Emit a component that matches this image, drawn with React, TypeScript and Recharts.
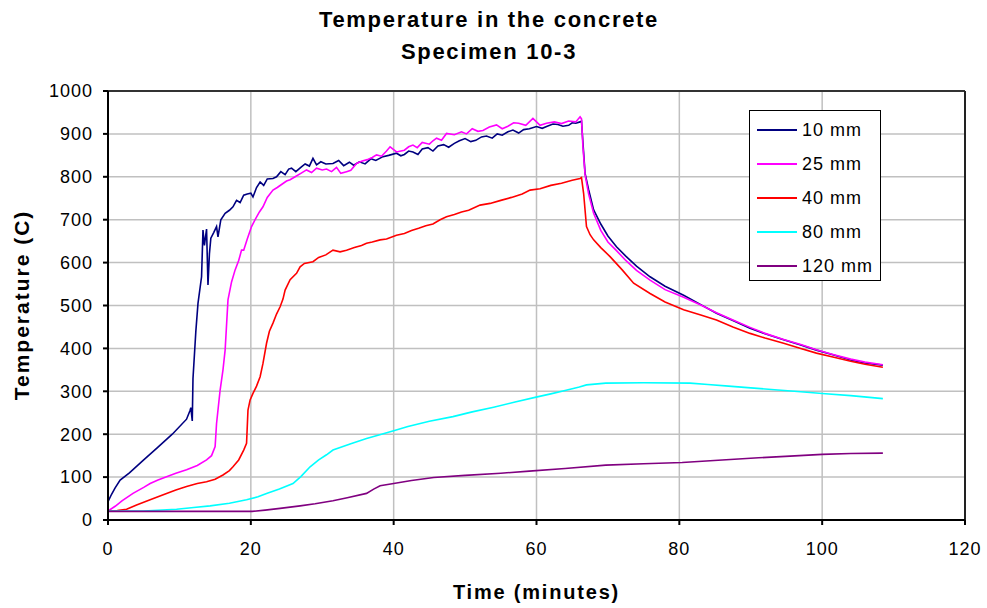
import React from 'react';
import { LineChart, Line, XAxis, YAxis, CartesianGrid, ReferenceLine } from 'recharts';

// [time (min), temperature (C)]
const s10mm: [number, number][] = [
  [0, 43], [0.5, 60], [1, 75], [1.7, 93], [3, 110], [5, 140], [7, 170], [9, 200], [11, 235], [11.5, 256],
  [11.6, 262], [11.8, 231], [11.9, 330], [12.3, 440], [12.6, 505], [13.1, 567], [13.3, 676], [13.5, 640],
  [13.8, 678], [14.0, 548], [14.2, 620], [14.4, 657], [14.8, 670], [15.2, 684], [15.4, 660], [15.8, 700],
  [16.4, 715], [17, 722], [17.5, 730], [18, 745], [18.5, 740], [19, 757], [19.5, 760], [20, 762], [20.3, 753],
  [20.8, 775], [21.3, 788], [21.8, 780], [22.3, 795], [23.1, 796], [23.6, 800], [24.2, 812], [24.8, 805],
  [25.3, 818], [25.7, 820], [26.3, 812], [27, 822], [27.6, 830], [28.2, 825], [28.7, 843], [29.2, 828],
  [29.8, 835], [30.5, 830], [31.5, 831], [32.3, 838], [33, 826], [33.8, 834], [34.4, 827], [35.2, 835],
  [36, 830], [36.8, 842], [37.5, 838], [38.5, 847], [39.3, 850], [40.4, 855], [41, 849], [41.5, 852], [42.1, 860],
  [42.7, 858], [43.4, 852], [44, 865], [44.8, 868], [45.5, 860], [46.2, 872], [47, 875], [47.7, 869], [48.5, 878],
  [49.2, 884], [50, 889], [50.8, 882], [51.5, 885], [52.3, 893], [53, 895], [53.8, 890], [54.5, 900], [55.2, 897],
  [56, 905], [56.7, 909], [57.5, 902], [58.2, 910], [59, 912], [60, 917], [60.8, 913], [61.5, 918], [62.3, 923],
  [63, 922], [63.7, 918], [64.5, 920], [65, 926], [65.5, 925], [66.1, 928], [66.3, 930],
  [66.5, 880], [66.8, 808], [67.3, 770], [68, 723], [69, 690], [70, 662], [71.2, 637], [72.5, 615], [74, 592],
  [75.9, 567], [78, 545], [80.6, 524], [83, 502], [85.2, 482], [87.5, 465], [89.9, 447], [92, 434], [94.6, 420],
  [97, 408], [99.2, 396], [101.5, 385], [104, 373], [106, 366], [108.5, 361],
];

const s25mm: [number, number][] = [
  [0, 21], [1, 32], [2, 45], [3.5, 62], [5, 76], [5.9, 85], [7, 93], [8.2, 101], [9.5, 109], [11, 117],
  [12.5, 127], [13.8, 140], [14.5, 150], [15, 171], [15.2, 225], [15.7, 303], [16.1, 350], [16.4, 396],
  [16.8, 513], [17.3, 555], [17.8, 583], [18.3, 605], [18.7, 629], [19, 629], [19.5, 655], [20.1, 684],
  [20.6, 700], [21.2, 718], [21.7, 730], [22.3, 752], [23.1, 769], [23.7, 775], [24.3, 782], [25, 790],
  [25.5, 793], [26.2, 800], [27, 808], [27.8, 816], [28.5, 810], [29.2, 820], [30, 816], [30.6, 818],
  [31.3, 812], [32, 822], [32.6, 808], [33.4, 812], [34, 815], [34.8, 831], [35.5, 836], [36.3, 840],
  [37, 845], [37.6, 851], [38.3, 848], [39, 860], [39.5, 870], [40.4, 858], [41.5, 862], [42.1, 870], [42.7, 874],
  [43.3, 868], [44, 880], [45, 876], [45.5, 884], [46, 890], [46.7, 885], [47.4, 901], [48.5, 898], [49.5, 905],
  [50.2, 900], [51, 912], [51.8, 906], [52.5, 908], [53.4, 916], [54.4, 921], [55.2, 912], [56, 918], [56.8, 926],
  [57.5, 925], [58.5, 920], [59.5, 936], [60.5, 920], [61.4, 925], [62.5, 928], [63.5, 924], [64.5, 930],
  [65.5, 928], [66.1, 940], [66.3, 935], [66.5, 870], [66.8, 805], [67.3, 760], [68, 715], [69, 675], [70, 648],
  [71.2, 628], [72.5, 605], [74, 582], [75.9, 559], [78, 537], [80.6, 519], [83, 501], [85.2, 483], [87.5, 466],
  [89.9, 449], [92, 435], [94.6, 421], [97, 409], [99.2, 397], [101.5, 386], [104, 375], [106, 368], [108.5, 362],
];

const s40mm: [number, number][] = [
  [0, 21], [1.3, 22], [2.6, 25], [4, 35], [5.9, 47], [7, 54], [8.2, 62], [9.5, 70], [11, 78], [12.5, 85],
  [13.8, 89], [15, 95], [16.1, 105], [17, 115], [17.5, 124], [18.3, 140], [19, 163], [19.4, 179], [19.6, 256],
  [19.9, 280], [20.3, 295], [20.8, 312], [21.3, 334], [21.7, 365], [22.2, 412], [22.6, 440], [23.1, 459],
  [23.6, 480], [24.1, 497], [24.5, 515], [24.8, 536], [25.5, 560], [26.4, 575], [26.9, 590], [27.5, 598],
  [28.7, 602], [29.5, 612], [30.5, 618], [31.5, 629], [32.5, 625], [33.4, 629], [34.5, 635], [35.5, 640],
  [36.2, 645], [37, 648], [38.1, 653], [39, 655], [40.4, 664], [41.5, 668], [42.5, 675], [43.5, 680],
  [44.5, 686], [45.5, 690], [46.5, 700], [47.4, 707], [48.5, 712], [49.5, 718], [50.5, 722], [52.1, 734],
  [53.5, 738], [55, 745], [56.5, 752], [58, 760], [59.1, 769], [60.5, 772], [62, 780], [63.5, 785], [65, 792],
  [66.1, 796], [66.3, 798], [66.6, 761], [67, 684], [67.5, 665], [68, 653], [69, 635], [70.3, 614], [72, 583],
  [73.6, 552], [75.9, 528], [78, 508], [80.6, 490], [83, 478], [85.2, 466], [87.5, 450], [89.9, 435], [92, 424],
  [94.6, 412], [97, 400], [99.2, 389], [101.5, 380], [104, 370], [106, 363], [108.5, 356],
];

const s80mm: [number, number][] = [
  [0, 21], [5, 21], [9.6, 25], [12, 29], [14.3, 33], [17, 39], [19.4, 47], [21, 54], [22.2, 62], [24, 72],
  [25.9, 85], [27, 101], [28.3, 124], [29.5, 140], [30.6, 152], [31.5, 163], [33, 172], [34, 178], [36.2, 190],
  [38.3, 200], [40, 208], [42, 218], [45, 230], [48.3, 241], [51, 252], [54, 263], [57, 275], [60.1, 287],
  [62, 294], [64, 302], [66, 310], [67, 315], [69.7, 319], [75, 320], [81.5, 319], [84, 316], [86.9, 312],
  [90, 308], [93.8, 303], [97, 299], [100, 295], [104, 290], [108.5, 283],
];

const s120mm: [number, number][] = [
  [0, 20], [5, 20], [10, 20], [15, 20], [20.2, 20], [22, 23], [24.1, 27], [26.9, 33], [29, 38], [31.5, 45],
  [33.5, 52], [36.2, 62], [37.2, 72], [38.1, 80], [40, 85], [42.5, 92], [45.6, 99], [50, 104], [55, 109],
  [59, 114], [64, 120], [69.7, 128], [75, 131], [80.4, 134], [86, 140], [91.1, 145], [95.5, 149], [100, 153],
  [104, 155], [108.5, 156],
];

const xTicks = [0, 20, 40, 60, 80, 100, 120];
const yTicks = [0, 100, 200, 300, 400, 500, 600, 700, 800, 900, 1000];

const series = [
  { name: '10 mm', points: s10mm, color: '#000080' },
  { name: '25 mm', points: s25mm, color: '#FF00FF' },
  { name: '40 mm', points: s40mm, color: '#FF0000' },
  { name: '80 mm', points: s80mm, color: '#00FFFF' },
  { name: '120 mm', points: s120mm, color: '#800080' },
];

const toRows = (pts: [number, number][]) => pts.map(([t, v]) => ({ t, v }));

const font = '"Liberation Sans", Arial, sans-serif';

const App = () => {
  return (
    <div style={{ position: 'absolute', left: 0, top: 0, width: 987, height: 608, background: '#fff', fontFamily: font }}>
      <div style={{ position: 'absolute', top: 4, left: 0, width: 978, textAlign: 'center', fontWeight: 'bold', fontSize: 22, letterSpacing: 1.7, lineHeight: '32px' }}>
        Temperature in the concrete
        <br />
        Specimen 10-3
      </div>
      <LineChart width={987} height={608} data={toRows(s10mm)} margin={{ top: 91, right: 22, left: 0, bottom: 0 }}>
        <CartesianGrid stroke="#c0c0c0" strokeWidth={1.5} />
        <XAxis
          type="number"
          dataKey="t"
          domain={[0, 120]}
          ticks={xTicks}
          height={88}
          stroke="#000"
          strokeWidth={2}
          tickSize={5}
          tickMargin={17}
          tick={{ fontSize: 18, fill: '#000', letterSpacing: 1 }}
          allowDataOverflow
        />
        <YAxis
          type="number"
          dataKey="v"
          domain={[0, 1000]}
          ticks={yTicks}
          width={108}
          stroke="#000"
          strokeWidth={2}
          tickSize={5}
          tickMargin={10}
          tick={{ fontSize: 18, fill: '#000', letterSpacing: 1 }}
        />
        <ReferenceLine y={1000} stroke="#333" strokeWidth={2} />
        <ReferenceLine x={120} stroke="#222" strokeWidth={2} />
        {series.map((s) => (
          <Line
            key={s.name}
            data={toRows(s.points)}
            dataKey="v"
            name={s.name}
            type="linear"
            stroke={s.color}
            strokeWidth={1.6}
            dot={false}
            isAnimationActive={false}
          />
        ))}
      </LineChart>
      <div style={{ position: 'absolute', left: 0, top: 578, width: 1073, textAlign: 'center', fontWeight: 'bold', fontSize: 20, letterSpacing: 1.8, lineHeight: '28px' }}>
        Time (minutes)
      </div>
      <div style={{ position: 'absolute', left: 22, top: 305, transform: 'translate(-50%, -50%) rotate(-90deg)', whiteSpace: 'nowrap', fontWeight: 'bold', fontSize: 21, letterSpacing: 2, lineHeight: '28px' }}>
        Temperature (C)
      </div>
      <div style={{ position: 'absolute', left: 749, top: 110, width: 130, height: 167, border: '1px solid #000', background: '#fff', paddingTop: 2 }}>
        {series.map((s) => (
          <div key={s.name} style={{ display: 'flex', alignItems: 'center', height: 34, fontSize: 18, letterSpacing: 1 }}>
            <div style={{ marginLeft: 7, width: 40, height: 2, background: s.color }} />
            <span style={{ marginLeft: 5 }}>{s.name}</span>
          </div>
        ))}
      </div>
    </div>
  );
};

export default App;
